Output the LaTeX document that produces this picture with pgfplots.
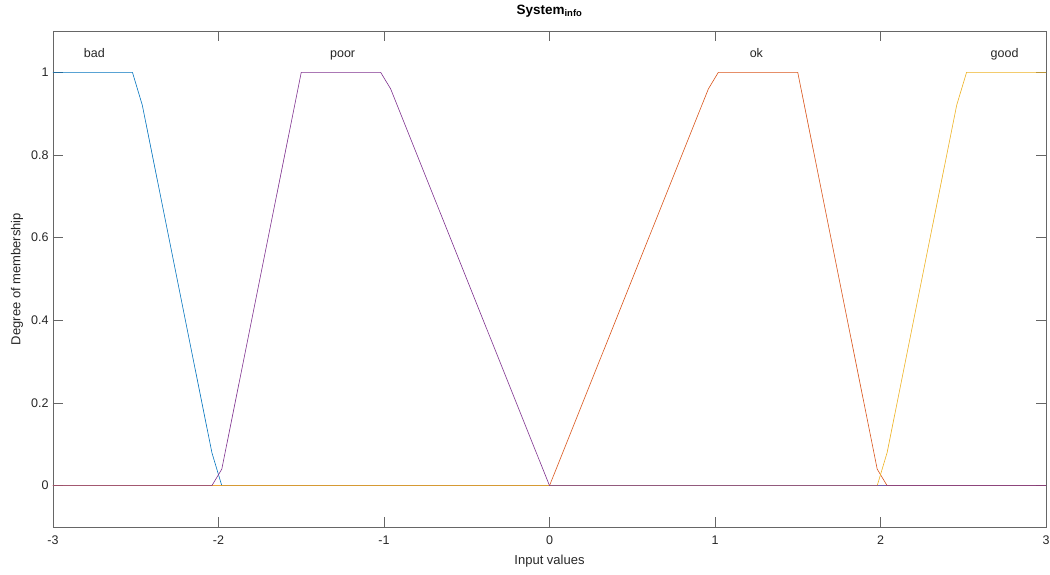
\documentclass[border=0pt]{standalone}
\usepackage{pgfplots}
\pgfplotsset{compat=1.18}
\usepackage{fontspec}
\setmainfont{Liberation Sans}
\definecolor{mblue}{rgb}{0,0.447,0.741}
\definecolor{morange}{rgb}{0.850,0.325,0.098}
\definecolor{myellow}{rgb}{0.929,0.694,0.125}
\definecolor{mpurple}{rgb}{0.494,0.184,0.556}
\definecolor{axgray}{rgb}{0.40,0.40,0.40}
\definecolor{txt}{rgb}{0.15,0.15,0.15}
\begin{document}
\begin{tikzpicture}
\path[use as bounding box] (-53pt,-47pt) rectangle (997pt,527pt);
\begin{axis}[
  at={(0pt,0pt)}, anchor=south west,
  scale only axis, width=993pt, height=496pt,
  xmin=-3, xmax=3, ymin=-0.1, ymax=1.1,
  xtick={-3,-2,-1,0,1,2,3},
  ytick={0,0.2,0.4,0.6,0.8,1},
  tick align=inside, major tick length=10pt,
  axis line style={axgray, line width=0.6pt},
  every tick/.style={axgray, line width=0.6pt},
  /pgf/number format/assume math mode=true,
  ticklabel style={font=\fontsize{12.5}{14}\selectfont, text=txt},
  xticklabel style={yshift=-5pt},
  yticklabel style={xshift=-1pt},
  xlabel={Input values},
  ylabel={Degree of membership},
  label style={font=\fontsize{13}{15}\selectfont, text=txt},
  xlabel style={at={(axis description cs:0.5,-0.0685)}, anchor=center},
  ylabel style={at={(axis description cs:-0.0363,0.5)}, anchor=center},
  title={\textbf{System}\textsubscript{\textbf{info}}},
  title style={at={(axis description cs:0.5,1.028)}, anchor=center, font=\fontsize{13.5}{15}\selectfont, text=black},
  clip=false,
]
\addplot[mblue, line width=0.6pt] coordinates {(-3,1) (-2.52,1) (-2.46,0.92) (-2.04,0.08) (-1.98,0) (3,0)};
\addplot[morange, line width=0.6pt] coordinates {(-3,0) (0,0) (0.96,0.96) (1.02,1) (1.5,1) (1.98,0.04) (2.04,0) (3,0)};
\addplot[myellow, line width=0.6pt] coordinates {(-3,0) (1.98,0) (2.04,0.08) (2.46,0.92) (2.52,1) (3,1)};
\addplot[mpurple, line width=0.6pt] coordinates {(-3,0) (-2.04,0) (-1.98,0.04) (-1.5,1) (-1.02,1) (-0.96,0.96) (0,0) (3,0)};
\node[font=\fontsize{12.5}{14}\selectfont, text=txt, anchor=base] at (axis cs:-2.75,1.036) {bad};
\node[font=\fontsize{12.5}{14}\selectfont, text=txt, anchor=base] at (axis cs:-1.25,1.036) {poor};
\node[font=\fontsize{12.5}{14}\selectfont, text=txt, anchor=base] at (axis cs:1.25,1.036) {ok};
\node[font=\fontsize{12.5}{14}\selectfont, text=txt, anchor=base] at (axis cs:2.75,1.036) {good};
\end{axis}
\end{tikzpicture}
\end{document}
